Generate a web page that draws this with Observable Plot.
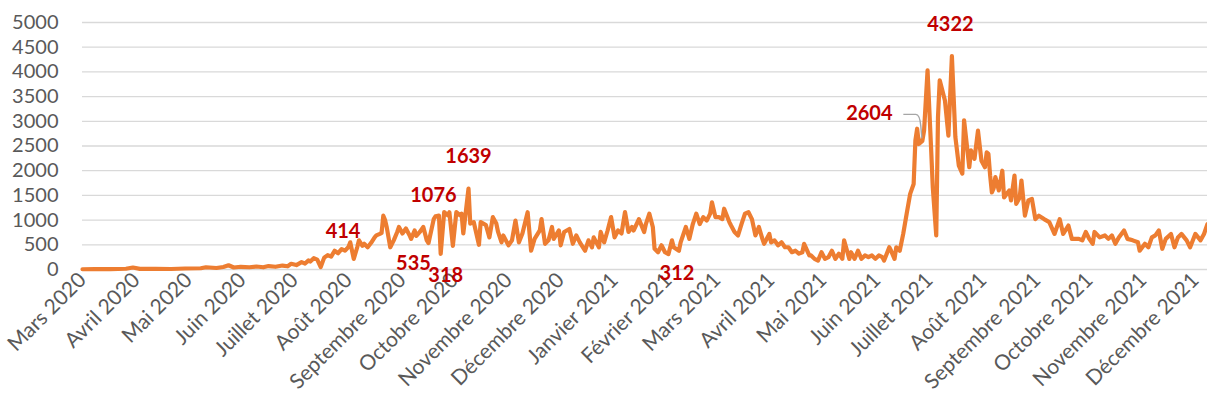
<!DOCTYPE html>
<html><head><meta charset="utf-8">
<script src="https://cdn.jsdelivr.net/npm/d3@7"></script>
<script src="https://cdn.jsdelivr.net/npm/@observablehq/plot@0.6"></script>
<style>
html,body{margin:0;padding:0;background:#fff;}
#chart{width:1207px;height:418px;overflow:hidden;}
</style></head><body><div id="chart"></div>
<script>
// ---- data ----
const dates = [
"2020-03-01","2020-03-08","2020-03-17","2020-03-26","2020-03-30","2020-04-03","2020-04-12","2020-04-21","2020-04-29",
"2020-05-08","2020-05-11","2020-05-17","2020-05-21","2020-05-24","2020-05-27","2020-05-31",
"2020-06-05","2020-06-09","2020-06-13","2020-06-16","2020-06-20","2020-06-24","2020-06-27","2020-06-29",
"2020-07-02","2020-07-05","2020-07-07","2020-07-09","2020-07-10","2020-07-12","2020-07-14","2020-07-16","2020-07-18","2020-07-20","2020-07-22","2020-07-24","2020-07-26","2020-07-28","2020-07-30",
"2020-08-01","2020-08-02","2020-08-04","2020-08-06","2020-08-07","2020-08-09","2020-08-10","2020-08-12","2020-08-14","2020-08-16","2020-08-17","2020-08-19","2020-08-20","2020-08-21","2020-08-22","2020-08-23","2020-08-25","2020-08-27","2020-08-29","2020-08-30",
"2020-09-01","2020-09-03","2020-09-05","2020-09-06","2020-09-08","2020-09-09","2020-09-11","2020-09-13","2020-09-15","2020-09-16","2020-09-19","2020-09-20","2020-09-22","2020-09-23","2020-09-25","2020-09-27","2020-09-28","2020-09-30",
"2020-10-02","2020-10-04","2020-10-05","2020-10-06","2020-10-09","2020-10-10","2020-10-12","2020-10-15","2020-10-16","2020-10-19","2020-10-21","2020-10-23","2020-10-25","2020-10-26","2020-10-28","2020-10-29",
"2020-11-01","2020-11-03","2020-11-05","2020-11-07","2020-11-09","2020-11-12","2020-11-14","2020-11-16","2020-11-19","2020-11-20","2020-11-22","2020-11-24","2020-11-26","2020-11-27","2020-11-30",
"2020-12-01","2020-12-03","2020-12-06","2020-12-08","2020-12-10","2020-12-12","2020-12-15","2020-12-17","2020-12-19","2020-12-20","2020-12-23","2020-12-24","2020-12-26","2020-12-28","2020-12-30",
"2021-01-01","2021-01-03","2021-01-05","2021-01-07","2021-01-09","2021-01-11","2021-01-12","2021-01-15","2021-01-18","2021-01-19","2021-01-21","2021-01-23","2021-01-24","2021-01-26","2021-01-28","2021-01-30",
"2021-02-01","2021-02-03","2021-02-04","2021-02-07","2021-02-08","2021-02-11","2021-02-13","2021-02-15","2021-02-17","2021-02-19","2021-02-21","2021-02-23","2021-02-25","2021-02-26","2021-02-28",
"2021-03-02","2021-03-04","2021-03-05","2021-03-08","2021-03-09","2021-03-11","2021-03-13","2021-03-15","2021-03-17","2021-03-19","2021-03-21","2021-03-23","2021-03-25","2021-03-27","2021-03-28","2021-03-31",
"2021-04-01","2021-04-03","2021-04-05","2021-04-07","2021-04-09","2021-04-11","2021-04-13","2021-04-15","2021-04-17","2021-04-19","2021-04-20","2021-04-23","2021-04-24","2021-04-26","2021-04-28","2021-04-30",
"2021-05-02","2021-05-04","2021-05-06","2021-05-08","2021-05-10","2021-05-12","2021-05-13","2021-05-16","2021-05-17","2021-05-19","2021-05-21","2021-05-23","2021-05-25","2021-05-27","2021-05-29","2021-05-31",
"2021-06-02","2021-06-04","2021-06-05","2021-06-08","2021-06-09","2021-06-11","2021-06-12","2021-06-14","2021-06-16","2021-06-18","2021-06-20","2021-06-22","2021-06-23","2021-06-24","2021-06-25","2021-06-27","2021-06-28","2021-06-30",
"2021-07-02","2021-07-03","2021-07-05","2021-07-06","2021-07-07","2021-07-10","2021-07-12","2021-07-14","2021-07-16","2021-07-18","2021-07-20","2021-07-21","2021-07-24","2021-07-25","2021-07-27","2021-07-29","2021-07-31",
"2021-08-02","2021-08-03","2021-08-04","2021-08-05","2021-08-06","2021-08-07","2021-08-08","2021-08-10","2021-08-12","2021-08-13","2021-08-16","2021-08-17","2021-08-19","2021-08-20","2021-08-22","2021-08-23","2021-08-25","2021-08-27","2021-08-29","2021-08-31",
"2021-09-02","2021-09-05","2021-09-08","2021-09-11","2021-09-14","2021-09-16","2021-09-19","2021-09-21","2021-09-25","2021-09-27","2021-09-29",
"2021-10-01","2021-10-03","2021-10-04","2021-10-07","2021-10-10","2021-10-12","2021-10-14","2021-10-16","2021-10-18","2021-10-21","2021-10-23","2021-10-26","2021-10-29","2021-10-30",
"2021-11-02","2021-11-04","2021-11-06","2021-11-08","2021-11-10","2021-11-12","2021-11-14","2021-11-17","2021-11-19","2021-11-21","2021-11-23","2021-11-26","2021-11-28",
"2021-12-01","2021-12-04","2021-12-06","2021-12-08"
];
const values = [
5,10,8,15,40,12,15,10,20,
25,45,30,50,85,40,55,
45,60,45,70,55,80,65,115,
90,150,120,185,160,230,200,50,240,290,260,380,330,414,380,
460,550,215,450,590,480,520,450,540,650,690,720,740,1090,1000,850,450,590,760,860,
730,830,700,620,790,680,760,860,590,535,1020,1076,1090,318,1160,1100,1160,480,
1160,1100,1130,730,1639,930,960,500,960,900,650,1060,930,760,550,690,
490,590,990,550,730,1160,380,620,790,1020,520,590,860,620,790,
490,760,820,520,690,550,380,590,450,650,450,760,550,790,1060,
650,790,730,1160,760,860,790,1020,760,920,1130,860,420,350,490,350,
312,590,450,380,550,860,620,920,1130,920,1060,990,1130,1360,1060,
1060,1020,1230,960,890,760,690,920,1130,1160,1020,690,860,620,520,720,
550,590,490,550,450,450,350,380,320,350,520,285,285,215,180,350,
215,250,380,215,320,215,590,215,350,215,380,215,285,250,285,215,
285,250,180,450,380,215,450,380,720,1130,1530,1730,2610,2850,2540,2604,2810,4030,
2480,1670,690,3080,3830,3420,2710,4322,2680,2100,1940,3020,2070,2410,2240,2810,2200,
2070,2370,2340,1900,1560,1640,1870,1600,2000,1460,1600,1400,1900,1330,1460,1800,1090,1400,1430,1020,
1090,1020,960,720,1020,720,890,620,620,590,760,
620,520,760,650,690,620,690,520,650,790,620,590,550,380,
520,450,650,690,790,420,620,720,450,650,720,590,450,
720,590,720,920
];
const monthTicks = ["2020-03-01","2020-04-01","2020-05-01","2020-06-01","2020-07-01","2020-08-01","2020-09-01","2020-10-01","2020-11-01","2020-12-01","2021-01-01","2021-02-01","2021-03-01","2021-04-01","2021-05-01","2021-06-01","2021-07-01","2021-08-01","2021-09-01","2021-10-01","2021-11-01","2021-12-01"];
const monthLabels = ["Mars 2020","Avril 2020","Mai 2020","Juin 2020","Juillet 2020","Août 2020","Septembre 2020","Octobre 2020","Novembre 2020","Décembre 2020","Janvier 2021","Février 2021","Mars 2021","Avril 2021","Mai 2021","Juin 2021","Juillet 2021","Août 2021","Septembre 2021","Octobre 2021","Novembre 2021","Décembre 2021"];
const yTicks = [0,500,1000,1500,2000,2500,3000,3500,4000,4500,5000];
const annDates = ["2020-07-28","2020-09-20","2020-10-09","2020-09-16","2020-09-23","2021-02-01","2021-06-27","2021-07-14"];
const annValues = [414,1076,1639,535,318,312,2604,4322];
const xStart = "2020-03-01", xEnd = "2021-12-08";

// ---- layout (label offsets in px, not data) ----
const annOffsets = [[1.5,-17],[-2,-21],[0,-31.5],[-15,21],[5,22],[8.5,20],[-53,-27],[-1.5,-31.5]];

const parse = d3.utcParse("%Y-%m-%d");
const data = dates.map((d,i)=>({date: parse(d), value: values[i]}));
const ticks = monthTicks.map(parse);
const labelOf = new Map(ticks.map((t,i)=>[+t, monthLabels[i]]));
const ann = annDates.map((d,i)=>({date: parse(d), value: annValues[i], text: String(annValues[i])}));

function leader(index, scales) {
  const a = ann[6];
  const px = scales.x(a.date), py = scales.y(a.value);
  const p = document.createElementNS("http://www.w3.org/2000/svg","path");
  p.setAttribute("d", `M${px-18.5},${py-26}H${px-6}Q${px-2},${py-26} ${px-1},${py-14}L${px},${py-2}`);
  p.setAttribute("fill","none");
  p.setAttribute("stroke","#A6A6A6");
  p.setAttribute("stroke-width","1.4");
  return p;
}

const chart = Plot.plot({
  width: 1207, height: 418,
  marginLeft: 82, marginRight: 0, marginTop: 22, marginBottom: 149,
  style: {fontFamily: "Lato, 'Open Sans', sans-serif", background: "#fff", color: "#595959", overflow: "visible"},
  x: {type: "utc", domain: [parse(xStart), parse(xEnd)]},
  y: {domain: [0, 5000]},
  marks: [
    Plot.gridY(yTicks, {stroke: "#d9d9d9", strokeOpacity: 1, strokeWidth: 1.3}),
    Plot.axisY(yTicks, {tickSize: 0, tickPadding: 24, fontSize: 20, label: null, tickFormat: d => String(d)}),
    Plot.axisX(ticks, {tickSize: 0, tickPadding: 7, tickRotate: -45, fontSize: 21, label: null, tickFormat: d => labelOf.get(+d)}),
    Plot.line(data, {x: "date", y: "value", stroke: "#ED7D31", strokeWidth: 4.2, strokeLinejoin: "round", strokeLinecap: "round"}),
    leader,
    ...ann.map((a,i)=>Plot.text([a], {x: "date", y: "value", text: "text", dx: annOffsets[i][0], dy: annOffsets[i][1], fill: "#C00000", fontWeight: "bold", fontSize: 20}))
  ]
});
document.getElementById("chart").appendChild(chart);
</script>
</body></html>
